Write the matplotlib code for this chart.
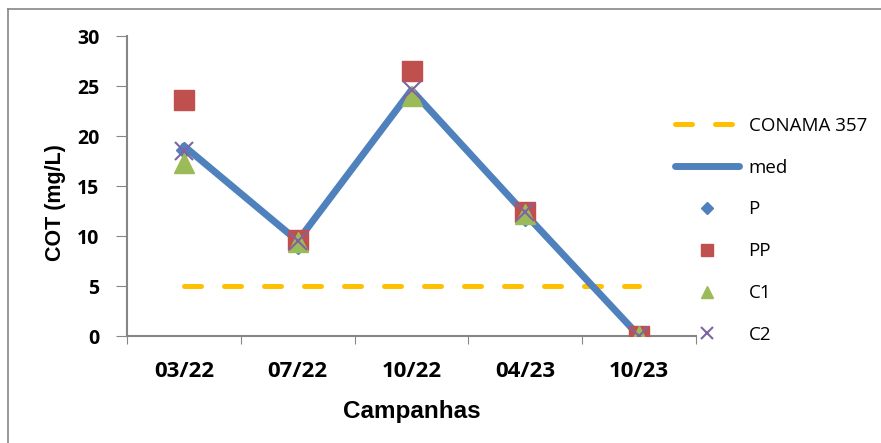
import matplotlib
matplotlib.use("Agg")
import matplotlib.pyplot as plt
from matplotlib.lines import Line2D
import numpy as np

campanhas = ["03/22", "07/22", "10/22", "04/23", "10/23"]
P = [18.6, 9.0, 24.0, 11.8, 0.0]
PP = [23.6, 9.6, 26.5, 12.4, 0.0]
C1 = [17.3, 9.4, 24.0, 12.2, 0.0]
C2 = [18.5, 9.5, 24.6, 12.4, 0.0]
med = [19.0, 9.5, 24.6, 12.2, 0.0]
conama = [5, 5, 5, 5, 5]
yticks = [0, 5, 10, 15, 20, 25, 30]

plt.rcParams['font.family'] = ['Open Sans', 'DejaVu Sans']

fig = plt.figure(figsize=(8.81, 4.43), dpi=100)
ax = fig.add_axes([127/881, 1-336/443, (696-127)/881, 300/443])

x = np.arange(len(campanhas))
ax.plot(x, conama, color='#FFC000', lw=3.6, dashes=(3.4, 4.6),
        dash_capstyle='round', label='CONAMA 357', zorder=2)
ax.plot(x, med, color='#4F81BD', lw=5, solid_capstyle='round', label='med', zorder=3)
ax.plot(x, P, ls='none', marker='D', ms=8, color='#4F81BD', label='P', zorder=4)
ax.plot(x, PP, ls='none', marker='s', ms=14.5, color='#C0504D', label='PP', zorder=4)
ax.plot(x, C1, ls='none', marker='^', ms=14.5, color='#9BBB59', label='C1', zorder=5)
ax.plot(x, C2, ls='none', marker='x', ms=13, mew=1.5, color='#8064A2', label='C2', zorder=6)

ax.set_xlim(-0.5, len(campanhas) - 0.5)
ax.set_ylim(0, 30)
ax.set_yticks(yticks)
ax.set_yticklabels([str(v) for v in yticks], fontweight='bold', fontsize=14)
ax.set_xticks(np.arange(-0.5, len(campanhas), 1.0))
ax.set_xticklabels([])
ax.set_xticks(x, minor=True)
ax.set_xticklabels(campanhas, minor=True, fontweight='bold', fontsize=16)
ax.tick_params(axis='x', which='minor', length=0, pad=18)
ax.tick_params(axis='x', which='major', length=6, color='#868686', direction='out')
ax.tick_params(axis='y', length=8, color='#868686', direction='out', pad=12)
for s in ['top', 'right']:
    ax.spines[s].set_visible(False)
for s in ['left', 'bottom']:
    ax.spines[s].set_color('#868686')
    ax.spines[s].set_linewidth(1.5)

ax.set_ylabel('COT (mg/L)', fontweight='bold', fontsize=15.5, family=['Liberation Sans', 'DejaVu Sans'])
ax.yaxis.set_label_coords((66-127)/569, (336-203)/300)
ax.set_xlabel('Campanhas', fontweight='bold', fontsize=17.5, family=['Liberation Sans', 'DejaVu Sans'],
              labelpad=13)

leg = fig.legend(loc='upper left', bbox_to_anchor=(658/881, 1-100/443), frameon=False,
                 fontsize=13.5, labelspacing=1.27, handlelength=3.4, handletextpad=0.53)
legend_ms = [None, None, 6.5, 8.5, 9, 8]
for h, m in zip(leg.legend_handles, legend_ms):
    if m is not None:
        h.set_markersize(m)

fig.add_artist(Line2D([8/881, 8/881], [0, 1-9/443], color='#868686', lw=1.2))
fig.add_artist(Line2D([8/881, 1], [1-9/443, 1-9/443], color='#868686', lw=1.2))

fig.savefig('out.png', dpi=100)
